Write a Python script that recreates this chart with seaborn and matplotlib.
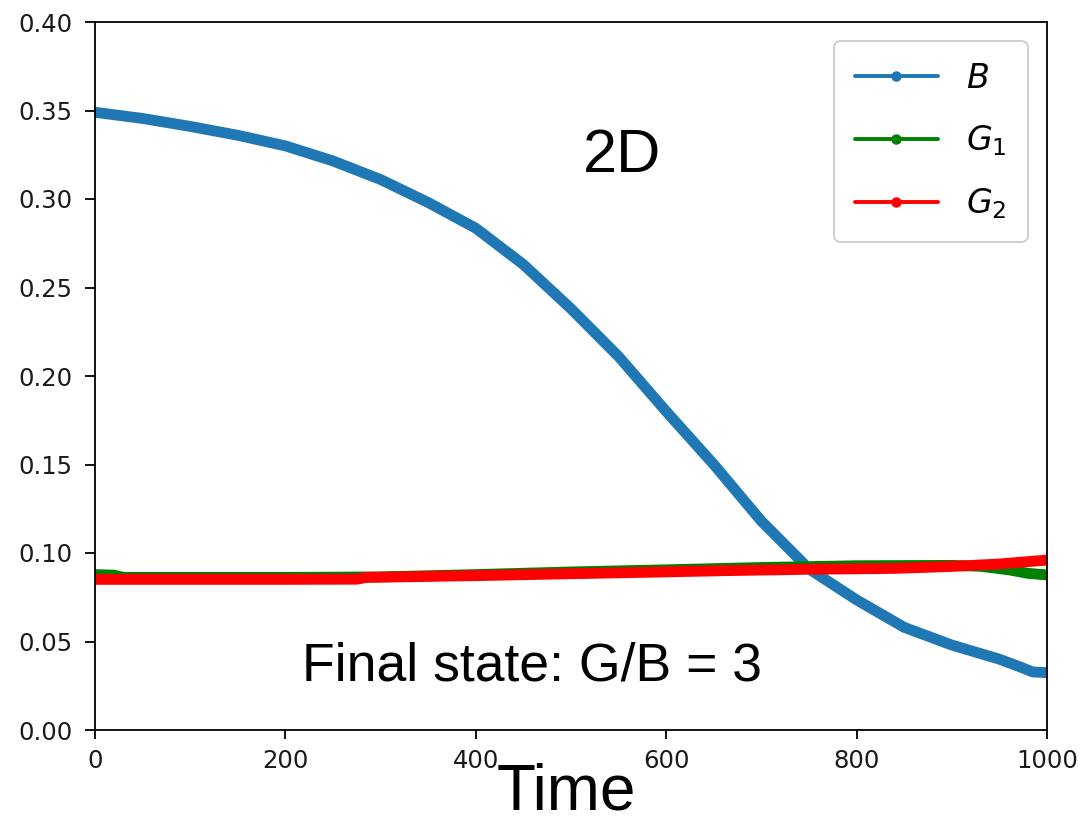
import matplotlib
matplotlib.use("Agg")
import matplotlib.pyplot as plt
from matplotlib.lines import Line2D
import seaborn as sns
import pandas as pd

# ---- data ----
t_B = [0, 50, 100, 150, 200, 250, 300, 350, 400, 450, 500, 550, 600, 650,
       700, 750, 800, 850, 900, 950, 970, 985, 1000]
B = [0.349, 0.3455, 0.341, 0.336, 0.330, 0.3215, 0.311, 0.298, 0.2835, 0.263,
     0.238, 0.211, 0.180, 0.150, 0.118, 0.091, 0.0735, 0.058, 0.048, 0.040,
     0.036, 0.0328, 0.0324]

t_G1 = [0, 20, 30, 100, 200, 300, 400, 500, 600, 700, 800, 900, 930, 960, 980, 1000]
G1 = [0.0878, 0.0875, 0.0862, 0.0862, 0.0862, 0.0865, 0.0878, 0.0893, 0.0905,
      0.0918, 0.0928, 0.0930, 0.0925, 0.0905, 0.0885, 0.0876]

t_G2 = [0, 100, 200, 275, 285, 400, 500, 580, 660, 750, 840, 900, 950, 1000]
G2 = [0.0851, 0.0851, 0.0851, 0.0852, 0.0862, 0.0872, 0.0883, 0.0891, 0.0900,
      0.0908, 0.0913, 0.0924, 0.0938, 0.0960]

series_labels = ["$B$", "$G_1$", "$G_2$"]
series_colors = ["#1f77b4", "green", "red"]
x_ticks = [0, 200, 400, 600, 800, 1000]
y_ticks = [0.00, 0.05, 0.10, 0.15, 0.20, 0.25, 0.30, 0.35, 0.40]

sns.set_style("ticks")
plt.rcParams["axes.edgecolor"] = "black"
plt.rcParams["text.color"] = "black"
plt.rcParams["font.family"] = ["DejaVu Sans"]

fig = plt.figure(figsize=(10.81, 8.23), dpi=100)
ax = fig.add_axes([95 / 1081, 1 - 730 / 823, (1047 - 95) / 1081, (730 - 22) / 823])

for tt, yy, c in zip([t_B, t_G1, t_G2], [B, G1, G2], series_colors):
    df = pd.DataFrame({"t": tt, "v": yy})
    sns.lineplot(data=df, x="t", y="v", ax=ax, color=c, linewidth=7.8,
                 solid_capstyle="round", solid_joinstyle="round", legend=False)

ax.set_xlim(0, 1000)
ax.set_ylim(0, 0.40)
ax.set_xticks(x_ticks)
ax.set_yticks(y_ticks)
ax.set_yticklabels([f"{v:.2f}" for v in y_ticks])
ax.tick_params(axis="both", labelsize=17.5, width=1.3, colors="black",
               labelcolor="#1a1a1a")
ax.tick_params(axis="y", length=7, pad=9)
ax.tick_params(axis="x", length=6.5, pad=7)
ax.set_xlabel("")
ax.set_ylabel("")
for s in ax.spines.values():
    s.set_visible(True)
    s.set_linewidth(1.3)

handles = [Line2D([0], [0], color=c, lw=2.8, marker="o", ms=6.5) for c in series_colors]
leg = ax.legend(handles, series_labels, loc="upper right", fontsize=24,
                handlelength=2.5, handletextpad=0.85, borderpad=0.62,
                borderaxespad=0.58, labelspacing=0.85,
                frameon=True, fancybox=True, framealpha=1, edgecolor="#cccccc")
leg.get_frame().set_linewidth(1.3)
for txt in leg.get_texts():
    txt.set_color("black")

ax.text(553.5, 0.3153, "2D", fontsize=44, family="Liberation Sans", color="black",
        ha="center", va="baseline")
ax.text(459, 0.0282, "Final state: G/B = 3", fontsize=38.5, family="Liberation Sans",
        color="black", ha="center", va="baseline")
fig.text(566 / 1081, 1 - 809 / 823, "Time", fontsize=46, family="Liberation Sans",
         color="black", ha="center", va="baseline")

fig.savefig("out.png", dpi=100)
